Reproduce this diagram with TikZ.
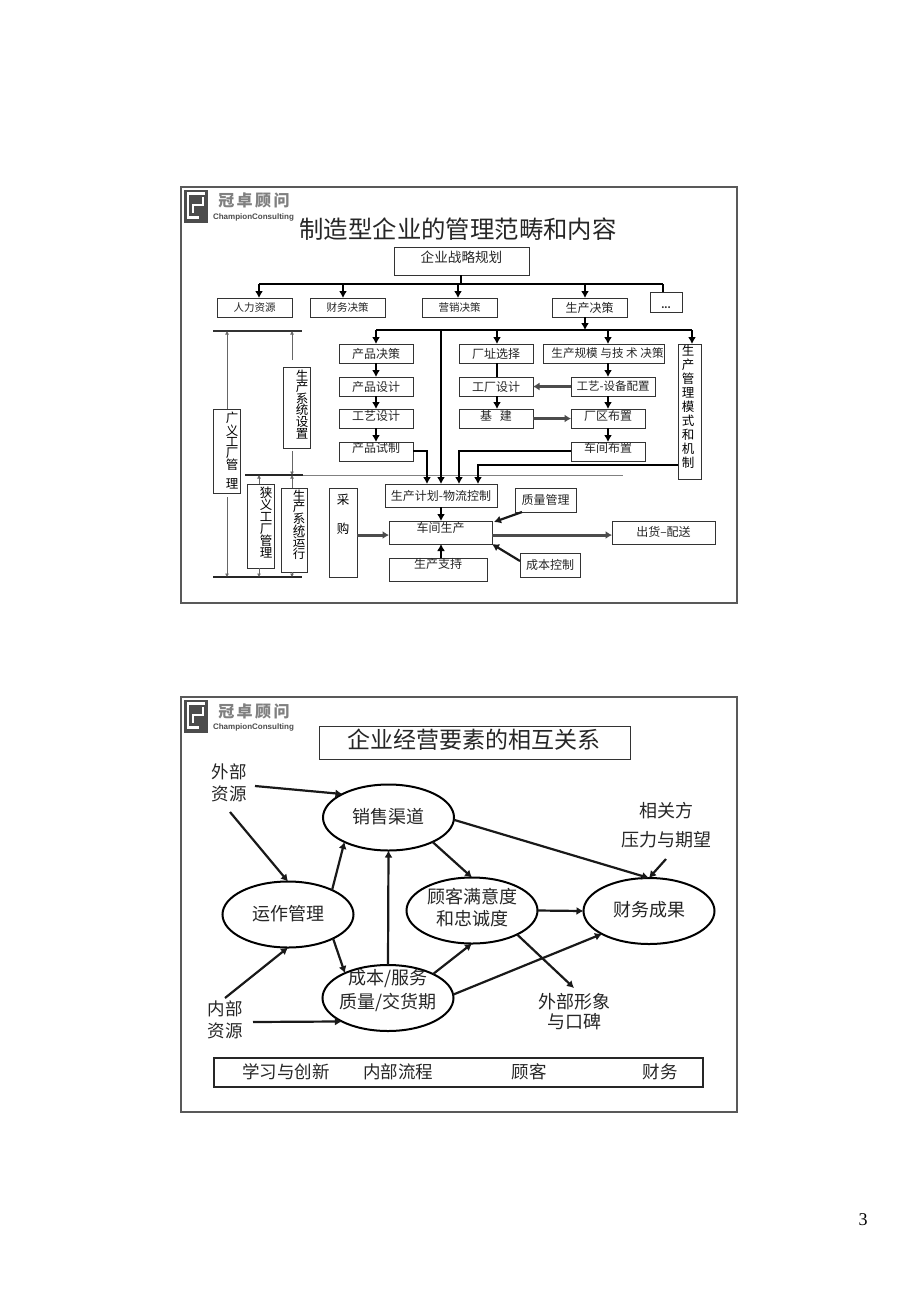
\documentclass[tikz,border=0pt]{standalone}
\usepackage{fontspec}
\setmainfont{Noto Sans CJK SC}
\newfontfamily\serifnum{Liberation Serif}
\newfontfamily\logolatin{Liberation Sans}
\usetikzlibrary{arrows.meta,shapes.geometric,calc}
\tikzset{
  frameline/.style={draw=black!65,line width=1.1pt},
  boxs/.style={draw=black!80,line width=1pt,inner sep=0pt,outer sep=0pt,align=center,text=black!85},
  tx/.style={inner sep=0pt,outer sep=0pt,align=center,text=black!85},
  hv/.style={line width=2.5pt,black,line cap=butt,-{Latex[length=7pt,width=8pt]}},
  hvp/.style={line width=2.5pt,black},
  gray arr/.style={line width=.7pt,black!60,-{Latex[length=3.5pt,width=4pt]}},
  big/.style={line width=2.2pt,black!90,-{Latex[length=7pt,width=8pt]}},
  shade arr/.style={line width=3pt,black!70,-{Latex[length=6.5pt,width=8pt]}},
  el/.style={ellipse,draw=black,line width=2pt,inner sep=0pt,outer sep=0pt,minimum width=131pt,minimum height=66pt},
  lg18/.style={tx,font=\fontsize{17.5}{22}\selectfont},
}
\newcommand\bx[8][0]{%
  \pgfmathsetlengthmacro\myTH{.88*#7}%
  \pgfmathsetlengthmacro\myTD{.12*#7+2*#1}%
  \pgfmathsetlengthmacro\myW{#5-#3}%
  \pgfmathsetlengthmacro\myH{#6-#4}%
  \node[boxs,minimum width=\myW,minimum height=\myH,text height=\myTH,text depth=\myTD,font=\fontsize{#7}{#7}\selectfont]
    (#2) at ({(#3+#5)/2},{(#4+#6)/2}) {#8};}
\newcommand\vt[6][12]{% size name x ytop spacing text
  \node[tx,text=black,anchor=north,font=\fontsize{#1}{#5}\selectfont] (#2) at (#3,#4) {#6};}
\newcommand\logo[1]{%
  \begin{scope}[shift={(0,#1)}]
    \fill[black!70] (183.5,190) rectangle (208,222.5);
    \draw[white,line width=2.6pt] (205,193.5) -- (188,193.5) -- (188,217.5) -- (199,217.5);
    \draw[white,line width=2.6pt] (203,197) -- (203,205) -- (193,205) -- (193,213);
    \node[tx,text=black!50,font=\bfseries\fontsize{16}{16}\selectfont] (logocn#1) at (254,201) {冠\hspace{2.5pt}卓\hspace{2.5pt}顾\hspace{2.5pt}问};
    \node[tx,text=black!70,font=\logolatin\bfseries\fontsize{8}{9}\selectfont] (logoen#1) at (253.5,217) {ChampionConsulting};
  \end{scope}}
\begin{document}
\begin{tikzpicture}[x=1pt,y=-1pt]
\useasboundingbox (0,0) rectangle (920,1302);
\fill[white] (0,0) rectangle (920,1302);
% ---------- slide 1
\draw[frameline] (181,187) rectangle (737,603);
\logo{0}
\node[tx,font=\fontsize{24.4}{26}\selectfont] (t1) at (458,229) {制造型企业的管理范畴和内容};
\bx[4]{zl}{394}{247}{529}{275}{13.6}{企业战略规划}
\bx{hr}{217}{298}{292}{317}{10.5}{人力资源}
\bx{cw}{310}{298}{385}{317}{10.5}{财务决策}
\bx{yx}{422}{298}{497}{317}{10.5}{营销决策}
\bx{sc}{552}{298}{627}{317}{12}{生产决策}
\bx{dots}{650}{292}{682}{312}{9}{\raisebox{-3pt}{\bfseries ...}}
\bx{p1}{339}{344}{413}{363}{12}{产品决策}
\bx{p2}{339}{377}{413}{396}{12}{产品设计}
\bx[2.5]{p3}{339}{409}{413}{428}{12}{工艺设计}
\bx[3.5]{p4}{339}{442}{413}{461}{12}{产品试制}
\bx{f1}{459}{344}{533}{363}{12}{厂址选择}
\bx{f2}{459}{377}{533}{396}{12}{工厂设计}
\bx[3]{f3}{459}{409}{533}{428}{12}{基\hspace{8pt}建}
\bx{g1}{543}{344}{664}{363}{12}{}
\node[tx,font=\fontsize{11.6}{12}\selectfont] (g1t) at (607.5,353) {生产规模 与技 术 决策};
\bx{g2}{571}{377}{655}{396}{11.5}{工艺-设备配置}
\bx[2.5]{g3}{571}{409}{645}{428}{12}{厂区布置}
\bx[3.5]{g4}{571}{442}{645}{461}{12}{车间布置}
\bx{mgt}{678}{344}{701}{479}{12}{}
\vt[12.5]{mgtt}{688}{344.5}{14.1}{生\\产\\管\\理\\模\\式\\和\\机\\制}
\bx{plan}{385}{484}{497}{507}{12}{生产计划-物流控制}
\bx[4.5]{ws}{389}{521}{492}{544}{12}{车间生产}
\bx[5.5]{sup}{389}{558}{487}{581}{12}{生产支持}
\bx{qm}{515}{488}{576}{512}{12}{质量管理}
\bx{cc}{520}{553}{580}{577}{12}{成本控制}
\bx[1]{ship}{612}{521}{715}{544}{12}{出货--配送}
\bx{cg}{329}{488}{357}{577}{12}{}
\node[tx,text=black,font=\fontsize{12.5}{12}\selectfont] (cg1) at (343,500) {采};
\node[tx,text=black,font=\fontsize{12.5}{12}\selectfont] (cg2) at (343,529) {购};
\bx{gy}{213}{409}{240}{493}{12}{}
\vt[12.5]{gyt}{232}{412}{11}{广\\义\\工\\厂\\管\\[8pt]理}
\bx{xy}{247}{484}{274}{568}{12}{}
\vt[12.5]{xyt}{266}{486.5}{12}{狭\\义\\工\\厂\\管\\理}
\bx{yx2}{281}{488}{307}{572}{12}{}
\vt[12.5]{yxt}{299}{489.5}{11.7}{生\\产\\系\\统\\运\\行}
\bx{sz}{283}{367}{310}{448}{12}{}
\vt[12.5]{szt}{302}{369.5}{11.6}{生\\产\\系\\统\\设\\置}
% rules
\coordinate (rtl) at (213,331); \coordinate (rtr) at (302,331);
\coordinate (rbl) at (213,577); \coordinate (rbr) at (302,577);
\coordinate (rml) at (245,475); \coordinate (rmd) at (303,475); \coordinate (rmr) at (623,475);
\draw[black!80,line width=1.1pt] (rtl) -- (rtr);
\draw[black!85,line width=1.4pt] (rbl) -- (rbr);
\draw[black!85,line width=1.2pt] (rml) -- (rmd);
\draw[black!50,line width=.8pt] (rmd) -- (rmr);
\coordinate (xa) at (227,0); \coordinate (xb) at (292,0); \coordinate (xc) at (259,0);
\draw[gray arr] (xa |- gy.north) -- (xa |- rtl);
\draw[gray arr] (xa |- gy.south) ++(0,4) -- (xa |- rbl);
\draw[gray arr] ($(xb |- sz.north)+(0,-7)$) -- (xb |- rtl);
\draw[gray arr] ($(xb |- sz.south)+(0,3)$) -- (xb |- rml);
\draw[gray arr] (xb |- yx2.north) -- (xb |- rml);
\draw[gray arr] (xc |- xy.north) -- (xc |- rml);
\draw[gray arr] (xc |- xy.south) -- (xc |- rbl);
\draw[gray arr] (xb |- yx2.south) -- (xb |- rbl);
% top buses
\coordinate (b1) at (461,284); \coordinate (b1l) at (259,284); \coordinate (b1r) at (663,284);
\draw[hvp] (b1l) -- (b1r);
\draw[hvp] (b1 |- zl.south) -- (b1);
\draw[hvp] (b1r) -- (b1r |- dots.north);
\draw[hv] (b1l) -- (b1l |- hr.north);
\coordinate (b1b) at (343,284); \draw[hv] (b1b) -- (b1b |- cw.north);
\coordinate (b1c) at (458,284); \draw[hv] (b1c) -- (b1c |- yx.north);
\coordinate (b1d) at (585,284); \draw[hv] (b1d) -- (b1d |- sc.north);
\coordinate (b2l) at (376,330); \coordinate (b2r) at (692,330);
\coordinate (b2a) at (585,330); \coordinate (b2b) at (497,330); \coordinate (b2c) at (608,330); \coordinate (b2d) at (441,330);
\draw[hvp] (b2l) -- (b2r);
\draw[hv] (b2a |- sc.south) -- (b2a);
\draw[hv] (b2l) -- (b2l |- p1.north);
\draw[hv] (b2b) -- (b2b |- f1.north);
\draw[hv] (b2c) -- (b2c |- g1.north);
\draw[hv] (b2r) -- (b2r |- mgt.north);
\draw[hv] (b2d) -- (b2d |- plan.north);
% columns
\draw[hv] (b2l |- p1.south) -- (b2l |- p2.north);
\draw[hv] (b2l |- p2.south) -- (b2l |- p3.north);
\draw[hv] (b2l |- p3.south) -- (b2l |- p4.north);
\draw[hvp] (b2b |- f1.south) -- (b2b |- f2.north);
\draw[hv] (b2b |- f2.south) -- (b2b |- f3.north);
\draw[hv] (b2c |- g1.south) -- (b2c |- g2.north);
\draw[hv] (b2c |- g2.south) -- (b2c |- g3.north);
\draw[hv] (b2c |- g3.south) -- (b2c |- g4.north);
\draw[shade arr] (g2.west) -- (f2.east);
\draw[shade arr] (f3.east) -- (g3.west);
% into plan
\coordinate (ia) at (427,451); \coordinate (ib) at (459,451); \coordinate (ic) at (478,465);
\draw[hv,line width=2.8pt] (p4.east |- ia) -- (ia) -- (ia |- plan.north);
\draw[hv] (g4.west |- ib) -- (ib) -- (ib |- plan.north);
\draw[hv,line width=2.8pt] (mgt.west |- ic) -- (ic) -- (ic |- plan.north);
% workshop
\coordinate (wsx) at (441,500);
\draw[hv] (wsx |- plan.south) -- (wsx |- ws.north);
\draw[hv] (wsx |- sup.north) -- (wsx |- ws.south);
\coordinate (cgy) at (360,535);
\draw[shade arr] (cg.east |- cgy) -- (ws.west |- cgy);
\draw[shade arr] (ws.east |- cgy) -- (ship.west |- cgy);
\coordinate (qa) at (522,512); \coordinate (qb) at (494,522);
\draw[big] (qa) -- (qb);
\coordinate (ca) at (520,561); \coordinate (cb) at (492,544);
\draw[big] (ca) -- (cb);
% ---------- slide 2
\draw[frameline] (181,697) rectangle (737,1112);
\logo{510}
\bx{t2}{319}{726}{630}{759}{23}{}
\node[tx,font=\fontsize{23}{24}\selectfont] (t2t) at (474,740) {企业经营要素的相互关系};
\node[el] (sales) at (388.5,817.5) {};
\node[tx,font=\fontsize{18}{20}\selectfont] (salest) at (388,817) {销售渠道};
\node[el] (ops) at (288,914.5) {};
\node[tx,font=\fontsize{18}{20}\selectfont] (opst) at (288,914) {运作管理};
\node[el] (cust) at (472,910.5) {};
\node[tx,font=\fontsize{18}{22}\selectfont] (custt) at (472,907.5) {顾客满意度\\和忠诚度};
\node[el] (fin) at (649,911) {};
\node[tx,font=\fontsize{18}{20}\selectfont] (fint) at (649,910) {财务成果};
\node[el] (cost) at (388,998) {};
\node[tx,font=\fontsize{18}{24}\selectfont] (costt) at (388,991) {成本/服务\\质量/交货期};
\node[lg18] (ext) at (229,783) {外部\\资源};
\node[lg18] (int) at (225,1019.5) {内部\\资源};
\node[lg18,font=\fontsize{18}{29}\selectfont] (rel) at (666,825.5) {相关方\\压力与期望};
\node[lg18,font=\fontsize{18}{19.5}\selectfont] (img) at (574,1011.5) {外部形象\\与口碑};
\coordinate (e1) at (255,786); \coordinate (e2) at (230,812);
\coordinate (i1) at (225,998); \coordinate (i2) at (253,1022);
\coordinate (r1) at (666,859); \coordinate (m1) at (574,988);
\draw[big] (e1) -- (sales.153);
\draw[big] (e2) -- (ops.north);
\draw[big] (ops.29.5) -- (sales.209);
\draw[big] (cost.north) -- (sales.south);
\draw[big] (sales.-29) -- (cust.north);
\draw[big] (sales.-2) -- (fin.north);
\draw[big] (r1) -- (fin.north);
\draw[big] (ops.-28.6) -- (cost.150);
\draw[big] (i1) -- (ops.south);
\draw[big] (i2) -- (cost.207.6);
\draw[big] (cost.28.5) -- (cust.south);
\draw[big] (cost.3) -- (fin.206.6);
\draw[big] (cust.east) -- (fin.west);
\draw[big] (cust.-28) -- (m1);
\bx{bar}{214}{1058}{703}{1087}{18}{}
\path[draw=black!85,line width=2.6pt] (bar.north west) rectangle (bar.south east);
\node[lg18] (l1) at (286,1071.5) {学习与创新};
\node[lg18] (l2) at (398,1071.5) {内部流程};
\node[lg18] (l3) at (529,1071.5) {顾客};
\node[lg18] (l4) at (660,1071.5) {财务};
\node[tx,text=black,font=\serifnum\fontsize{18}{20}\selectfont] (pg) at (863,1220) {3};
\end{tikzpicture}
\end{document}
